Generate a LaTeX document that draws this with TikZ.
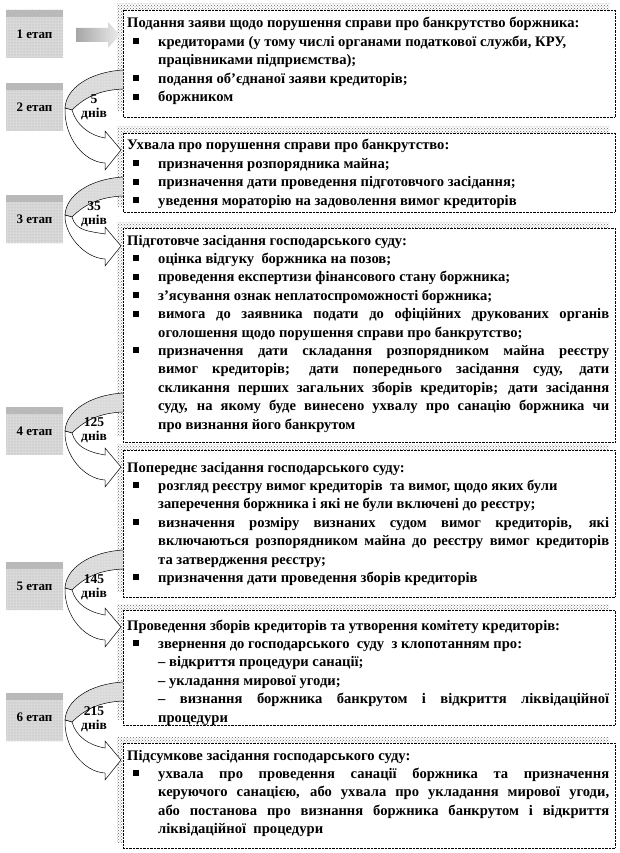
\documentclass[tikz,border=0pt]{standalone}
\usepackage{fontspec}
\setmainfont{Liberation Serif}
\usetikzlibrary{patterns}
\setlength{\parindent}{0pt}

\newcommand{\punkt}{\par\hangindent=31pt\hangafter=0\noindent\llap{\rule[2pt]{6pt}{6pt}\hspace{19pt}}}
\newcommand{\riadok}{\par\hangindent=31pt\hangafter=0\noindent}
\newcommand{\prostir}{\spaceskip=0.25em plus 0.3em minus 0.1em\relax}

\tikzset{
  tin/.style={pattern=crosshatch dots, pattern color=black!60},
  ramka/.style={densely dotted, fill=white},
  zmist/.style={anchor=base west, inner sep=0pt, text width=482pt, align=justify,
    font=\fontsize{14.6}{18.4}\selectfont\bfseries, execute at begin node=\prostir},
  etap/.style={preaction={fill=gray!30}, pattern=dots, pattern color=gray!70,
    minimum width=57pt, minimum height=48pt, inner sep=0pt,
    font=\fontsize{13}{15}\selectfont\bfseries},
  strichka/.style={preaction={fill=gray!30}, pattern=dots, pattern color=white,
    draw=black, line width=0.5pt},
  dni/.style={font=\fontsize{13.5}{15}\selectfont\bfseries, inner sep=0pt}
}

\begin{document}
\begin{tikzpicture}[x=1pt,y=-1pt]
    \useasboundingbox (0,0) rectangle (619,853);

    % frames with shadows
    \foreach \verh/\niz in {10/117,133/212,228/442,450/597,610/725,743/848} {
        \fill[tin] (117,\verh-6) rectangle (609,\niz-6);
        \draw[ramka] (123,\verh) rectangle (615,\niz);
    }

    % stages
    \foreach \y [count=\i] in {35,108,220,432,587,718} {
        \node[etap] (e\i) at (34.5,\y-1) {\i{} етап};
        \fill[gray!55] (e\i.north west) rectangle ([yshift=-7pt]e\i.north east);
    }

    \shade[left color=gray!70, right color=gray!15]
        (76,28) -- (108,28) -- (108,22) -- (120,35) -- (108,48) -- (108,42) -- (76,42) -- cycle;

    % curved arrows between stages
    \foreach \yt/\yk/\kilk [count=\i] in {70/150/5,177/246/35,393/467/125,550/627/145,682/760/215} {
        \draw[strichka] (123,\yt) .. controls (90,\yt+2) and (66,\yt+18) .. (65,\yt+38)
            -- (72,\yt+40) .. controls (85,\yt+27) and (100,\yt+20) .. (123,\yt+19);
        \draw[fill=white, line width=0.5pt] (65,\yt+38) .. controls (64,\yk-12) and (84,\yk+12) .. (105,\yk+13)
            -- (105,\yk+20) -- (121,\yk) -- (105,\yk-19) -- (105,\yk-12)
            .. controls (88,\yk-15) and (76,\yt+54) .. (72,\yt+40) -- cycle;
        \node[dni] (d\i) at (94,\yt+29) {\kilk};
        \node[dni] (dn\i) at (94,\yt+44) {днів};
    }

    \node[zmist] (z1) at (127,28) {Подання заяви щодо порушення справи про банкрутство боржника:
        \punkt кредиторами (у тому числі органами податкової служби, КРУ,\newline працівниками підприємства);
        \punkt подання об’єднаної заяви кредиторів;
        \punkt боржником\par};

    \node[zmist] (z2) at (127,150) {Ухвала про порушення справи про банкрутство:
        \punkt призначення розпорядника майна;
        \punkt призначення дати проведення підготовчого засідання;
        \punkt уведення мораторію на задоволення вимог кредиторів\par};

    \node[zmist] (z3) at (127,245) {Підготовче засідання господарського суду:
        \punkt оцінка відгуку\ \ боржника на позов;
        \punkt проведення експертизи фінансового стану боржника;
        \punkt з’ясування ознак неплатоспроможності боржника;
        \punkt вимога до заявника подати до офіційних друкованих органів\linebreak
        оголошення щодо порушення справи про банкрутство;
        \punkt призначення дати складання розпорядником майна реєстру\linebreak
        вимог кредиторів; дати попереднього засідання суду, дати\linebreak
        скликання перших загальних зборів кредиторів; дати засідання\linebreak
        суду, на якому буде винесено ухвалу про санацію боржника чи\linebreak
        про визнання його банкрутом\par};

    \node[zmist] (z4) at (127,472) {Попереднє засідання господарського суду:
        \punkt розгляд реєстру вимог кредиторів\ \ та вимог, щодо яких були\newline
        заперечення боржника і які не були включені до реєстру;
        \punkt визначення розміру визнаних судом вимог кредиторів, які\linebreak
        включаються розпорядником майна до реєстру вимог кредиторів\linebreak
        та затвердження реєстру;
        \punkt призначення дати проведення зборів кредиторів\par};

    \node[zmist] (z5) at (127,630) {Проведення зборів кредиторів та утворення комітету кредиторів:
        \punkt звернення до господарського\ \ суду\ \ з клопотанням про:
        \riadok – відкриття процедури санації;
        \riadok – укладання мирової угоди;
        \riadok – визнання боржника банкрутом і відкриття ліквідаційної\linebreak
        процедури\par};

    \node[zmist] (z6) at (127,760) {Підсумкове засідання господарського суду:
        \punkt ухвала про проведення санації боржника та призначення\linebreak
        керуючого санацією, або ухвала про укладання мирової угоди,\linebreak
        або постанова про визнання боржника банкрутом і відкриття\linebreak
        ліквідаційної\ \ процедури\par};
\end{tikzpicture}
\end{document}
